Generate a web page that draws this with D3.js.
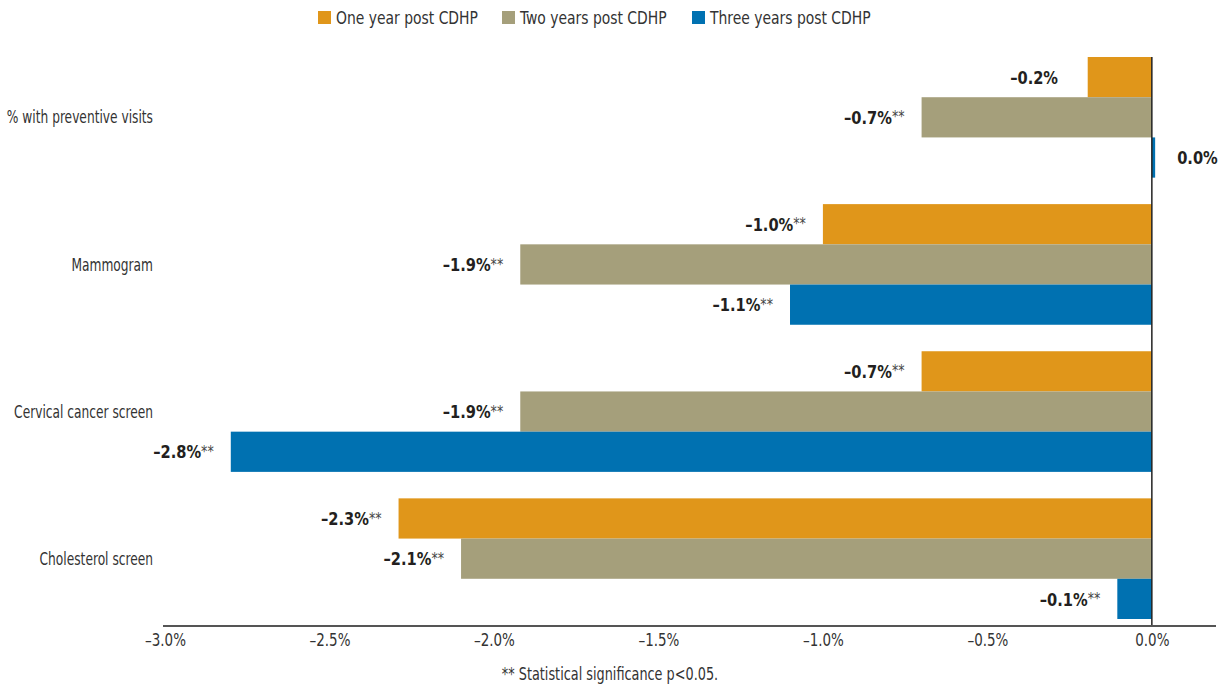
<!DOCTYPE html>
<html><head><meta charset="utf-8">
<script src="https://cdn.jsdelivr.net/npm/d3@7"></script>
<style>
html,body{margin:0;padding:0;background:#fff;}
svg text{font-family:"DejaVu Sans Condensed","DejaVu Sans",sans-serif;}
</style></head>
<body><svg id="chart" width="1220" height="686"></svg>
<script>
const categories = ["% with preventive visits","Mammogram","Cervical cancer screen","Cholesterol screen"];
const seriesNames = ["One year post CDHP","Two years post CDHP","Three years post CDHP"];
const oneYear   = [-0.195, -1.0, -0.70, -2.29];
const twoYears  = [-0.70, -1.92, -1.92, -2.10];
const threeYears= [0.01, -1.10, -2.80, -0.105];
const labelsOne   = ["–0.2%","–1.0%**","–0.7%**","–2.3%**"];
const labelsTwo   = ["–0.7%**","–1.9%**","–1.9%**","–2.1%**"];
const labelsThree = ["0.0%","–1.1%**","–2.8%**","–0.1%**"];
const tickValues = [-3.0,-2.5,-2.0,-1.5,-1.0,-0.5,0.0];
const tickLabels = ["–3.0%","–2.5%","–2.0%","–1.5%","–1.0%","–0.5%","0.0%"];
const colors = ["#e0961a","#a59f7b","#0071b1"];
const footnote = "** Statistical significance p<0.05.";

const svg = d3.select("#chart");
const x = d3.scaleLinear().domain([-3.0, 0.195]).range([165, 1216]);
const y = d3.scaleBand().domain(categories).range([57, 619]).paddingInner(0.18).paddingOuter(0);
const ySub = d3.scaleBand().domain([0,1,2]).range([0, y.bandwidth()]).padding(0);

const seriesVals = [oneYear, twoYears, threeYears];
const seriesLabels = [labelsOne, labelsTwo, labelsThree];

function ctext(parent, px, py, sx, anchor, size, str, fill, weight) {
  const g = parent.append("g").attr("transform", `translate(${px},${py}) scale(${sx},1)`);
  return g.append("text").attr("x", 0).attr("y", 0).attr("dy", "0.36em")
    .attr("text-anchor", anchor).attr("font-size", size).attr("fill", fill)
    .attr("font-weight", weight || "normal").text(str);
}

// bars
seriesVals.forEach((vals, s) => {
  svg.append("g").selectAll("rect").data(categories).join("rect")
    .attr("x", (c,i) => Math.min(x(vals[i]), x(0)))
    .attr("width", (c,i) => Math.abs(x(vals[i]) - x(0)))
    .attr("y", c => y(c) + ySub(s))
    .attr("height", ySub.bandwidth())
    .attr("fill", colors[s]);
});

// value labels
seriesVals.forEach((vals, s) => {
  const g = svg.append("g");
  categories.forEach((c, i) => {
    const v = vals[i];
    const lab = seriesLabels[s][i];
    const yc = y(c) + ySub(s) + ySub.bandwidth()/2;
    const pos = v >= 0;
    const t = ctext(g, pos ? x(v) + 22 : x(v) - 17, yc, 0.88, pos ? "start" : "end", 18.5, null, "#231f20", "bold");
    t.append("tspan").text(lab.replace("**",""));
    if (lab.includes("**")) {
      t.append("tspan").text("**").attr("font-weight","normal").attr("font-size",16)
        .attr("fill","#444").attr("dy","-0.1em");
    } else if (!pos) {
      t.append("tspan").text("**").attr("font-weight","normal").attr("font-size",16)
        .attr("fill-opacity",0).attr("dy","-0.1em");
    }
  });
});

// category labels
const cg = svg.append("g");
categories.forEach(c => ctext(cg, 153, y(c) + y.bandwidth()/2, 0.8, "end", 17, c, "#333"));

// zero line
svg.append("line").attr("x1", x(0)).attr("x2", x(0)).attr("y1", 57).attr("y2", 626)
  .attr("stroke", "#222").attr("stroke-width", 1.5);

// x axis
const axis = d3.axisBottom(x).tickValues(tickValues).tickSize(0).tickPadding(8)
  .tickFormat((d,i) => tickLabels[i]);
const ax = svg.append("g").attr("transform", "translate(0,626)").call(axis);
ax.select(".domain").attr("stroke", "#555").attr("stroke-width", 2).attr("d", "M163,0H1216");
ax.selectAll("text").attr("font-size", 17).attr("fill", "#333")
  .attr("transform", "scale(0.88,1)")
  .style("font-family", '"DejaVu Sans Condensed","DejaVu Sans",sans-serif');

// footnote
ctext(svg, 610, 674, 0.84, "middle", 17, footnote, "#333");

// legend
const legendX = [318, 502, 692];
const lg = svg.append("g");
seriesNames.forEach((n, s) => {
  lg.append("rect").attr("x", legendX[s]).attr("y", 11).attr("width", 13).attr("height", 13).attr("fill", colors[s]);
  ctext(lg, legendX[s] + 18, 18, 0.86, "start", 18, n, "#333");
});
</script></body></html>
